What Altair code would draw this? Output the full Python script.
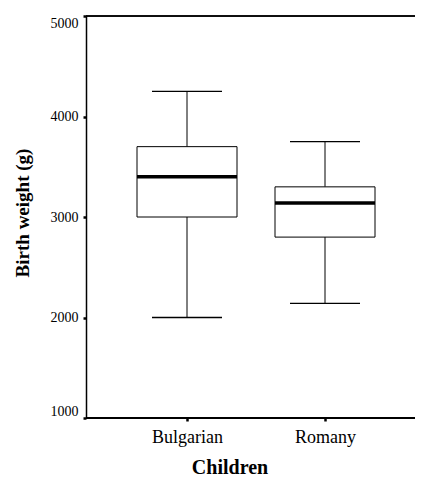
import altair as alt
import pandas as pd

groups = ["Bulgarian", "Romany"]
lower = [2000, 2140]
q1 = [3000, 2800]
median = [3400, 3140]
q3 = [3700, 3300]
upper = [4250, 3750]

df = pd.DataFrame({"group": groups, "lower": lower, "q1": q1,
                   "median": median, "q3": q3, "upper": upper})

W, H = 329, 402
FONT = "Liberation Serif, Times New Roman, DejaVu Serif, serif"

x = alt.X("group:N", sort=groups,
          scale=alt.Scale(type="point", range=[101, 239], padding=0),
          axis=alt.Axis(title="Children", labelAngle=0, labelFontSize=18,
                        labelFont=FONT, labelColor="black", labelPadding=7,
                        tickSize=3, tickWidth=2.5, tickColor="black",
                        domain=False,
                        titleFont=FONT, titleFontSize=20, titleFontWeight="bold",
                        titleColor="black", titleX=143.5, titleY=55,
                        titleBaseline="alphabetic", titleAlign="center"))

yscale = alt.Scale(domain=[1000, 5000], nice=False, zero=False)
y = alt.Y("lower:Q", scale=yscale,
          axis=alt.Axis(title="Birth weight (g)", values=[1000, 2000, 3000, 4000, 5000],
                        format="d",
                        grid=False, labelFontSize=14, labelFont=FONT,
                        labelColor="black", labelPadding=5, labelFlush=True,
                        tickSize=3, tickWidth=2.5, tickColor="black",
                        domainColor="black", domainWidth=1.5,
                        titleFont=FONT, titleFontSize=19, titleFontWeight="bold",
                        titleColor="black", titleX=-64, titleY=196.5,
                        titleAngle=270, titleAlign="center",
                        titleBaseline="middle"))

base = alt.Chart(df)

whisk_low = base.mark_rule(color="black", strokeWidth=1).encode(
    x=x, y=y, y2="q1:Q")
whisk_up = base.mark_rule(color="black", strokeWidth=1).encode(
    x=x, y=alt.Y("q3:Q", scale=yscale), y2="upper:Q")
box = base.mark_bar(size=100, fill="white", stroke="black", strokeWidth=1).encode(
    x=x, y=alt.Y("q1:Q", scale=yscale), y2="q3:Q")
med = base.mark_tick(size=100, thickness=3.5, color="black", opacity=1).encode(
    x=x, y=alt.Y("median:Q", scale=yscale))
cap_low = base.mark_tick(size=70, thickness=1.3, color="black", opacity=1).encode(
    x=x, y=alt.Y("lower:Q", scale=yscale))
cap_up = base.mark_tick(size=70, thickness=1.3, color="black", opacity=1).encode(
    x=x, y=alt.Y("upper:Q", scale=yscale))
top_line = base.mark_rule(color="black", strokeWidth=1.5).encode(
    x=alt.value(0), x2=alt.value(W), y=alt.value(0))
bottom_line = base.mark_rule(color="black", strokeWidth=1.8).encode(
    x=alt.value(0), x2=alt.value(W), y=alt.value(H))

chart = alt.layer(whisk_low, whisk_up, box, med, cap_low, cap_up,
                  top_line, bottom_line).properties(
    width=W, height=H,
    autosize=alt.AutoSizeParams(type="none"),
    padding={"left": 78, "top": 8, "right": 0, "bottom": 62},
).configure_view(stroke=None).configure(background="white", font=FONT)

chart.save("out.html", embed_options={"renderer": "svg", "actions": False})
